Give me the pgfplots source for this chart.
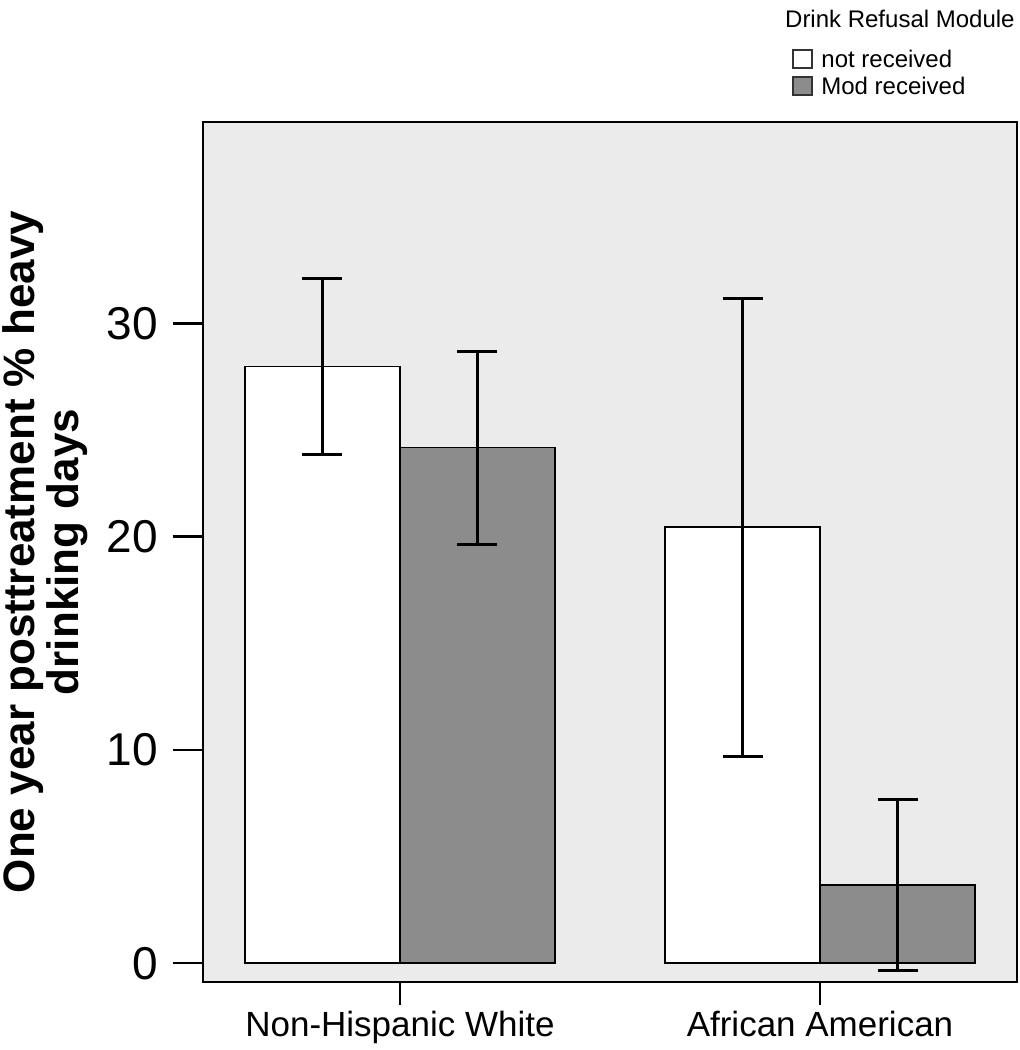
\documentclass[border=0pt]{standalone}
\usepackage{fontspec}
\setmainfont{Liberation Sans}
\usepackage{pgfplots}
\pgfplotsset{compat=1.18}
\definecolor{bggray}{RGB}{235,235,235}
\definecolor{bargray}{RGB}{140,140,140}
\begin{document}
\begin{tikzpicture}
\useasboundingbox (-101.5pt,-34pt) rectangle (408.5pt,491pt);
\begin{axis}[
  at={(0,0)}, anchor=south west,
  scale only axis, width=407pt, height=430pt,
  xmin=-0.469, xmax=1.469, ymin=-0.88, ymax=39.44,
  clip=false,
  axis background/.style={fill=bggray},
  axis line style={line width=1pt},
  ybar=0pt, bar width=77.5pt,
  xtick={0,1}, xticklabels={Non-Hispanic White, African American},
  ytick={0,10,20,30},
  tick align=outside,
  major tick length=15pt,
  xtick pos=bottom, ytick pos=left,
  xtick style={draw=none},
  ytick style={line width=1.2pt, black},
  /pgf/number format/assume math mode=true,
  yticklabel style={font=\fontsize{23}{23}\selectfont, xshift=-4pt},
  xticklabel style={font=\fontsize{17.5}{17.5}\selectfont, yshift=4pt},
  ylabel={One year posttreatment \% heavy\\drinking days},
  ylabel style={font=\fontsize{22}{22}\selectfont\bfseries, align=center},
  ylabel shift=2.5pt,
]
\addplot[fill=white, draw=black, line width=0.8pt,
  error bars/.cd, y dir=both, y explicit,
  error bar style={line width=1.5pt, black},
  error mark options={rotate=90, mark size=10pt, line width=1.5pt, black}]
  coordinates {(0,27.97) +- (0,4.11) (1,20.44) +- (0,10.73)};
\addplot[fill=bargray, draw=black, line width=0.8pt,
  error bars/.cd, y dir=both, y explicit,
  error bar style={line width=1.5pt, black},
  error mark options={rotate=90, mark size=10pt, line width=1.5pt, black}]
  coordinates {(0,24.17) +- (0,4.52) (1,3.67) +- (0,4.0)};
\draw[line width=1.2pt] (axis cs:0,-0.88) -- ([yshift=-11.5pt]axis cs:0,-0.88);
\draw[line width=1.2pt] (axis cs:1,-0.88) -- ([yshift=-11.5pt]axis cs:1,-0.88);
\end{axis}
% legend
\node[anchor=north east, font=\fontsize{12}{12}\selectfont, inner sep=0pt] at (406pt,486pt) {Drink Refusal Module};
\draw[fill=white, draw=black!80, line width=0.8pt] (295pt,457pt) rectangle (304.5pt,466pt);
\node[anchor=west, font=\fontsize{12}{12}\selectfont, inner sep=0pt] at (309pt,461.5pt) {not received};
\draw[fill=bargray, draw=black!80, line width=0.8pt] (295pt,443.5pt) rectangle (304.5pt,452.5pt);
\node[anchor=west, font=\fontsize{12}{12}\selectfont, inner sep=0pt] at (309pt,448pt) {Mod received};
\end{tikzpicture}
\end{document}
